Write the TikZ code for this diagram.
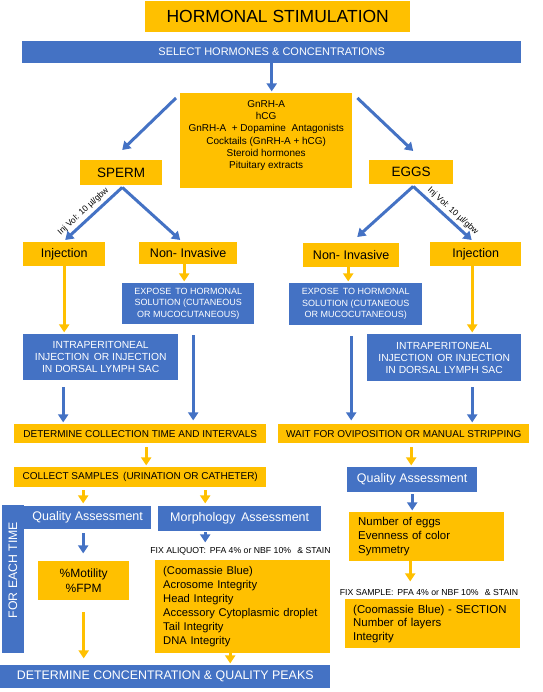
\documentclass[tikz,border=0pt]{standalone}
\usepackage{fontspec}
\setmainfont{Liberation Sans}
\usetikzlibrary{arrows.meta,calc}
\definecolor{bblue}{HTML}{4472C4}
\definecolor{yell}{HTML}{FFC000}
\begin{document}
\begin{tikzpicture}[x=1pt,y=-1pt,
  yb/.style={fill=yell, inner sep=0pt, anchor=north west, text=black, align=center},
  bb/.style={fill=bblue, inner sep=0pt, anchor=north west, text=white, align=center},
  barrow/.style={draw=bblue, line width=3pt, -{Triangle[width=10pt,length=8pt]}},
  yarrow/.style={draw=yell, line width=3pt, -{Triangle[width=10pt,length=8pt]}},
  lbl/.style={font=\fontsize{8.5}{10}\selectfont, inner sep=0pt}
]
\useasboundingbox (0,0) rectangle (542,692);

% boxes
\node[yb, minimum width=265pt, minimum height=31pt, font=\fontsize{17.5}{20}\selectfont] (title) at (145,1) {HORMONAL STIMULATION};
\node[bb, minimum width=499pt, minimum height=22pt, font=\fontsize{11}{13}\selectfont] (select) at (22,41) {SELECT HORMONES \& CONCENTRATIONS};
\node[yb, minimum width=172pt, minimum height=95pt, font=\fontsize{10}{12.3}\selectfont] (hormones) at (180,93)
  {GnRH-A\\hCG\\GnRH-A \;+ Dopamine \;Antagonists\\Cocktails (GnRH-A + hCG)\\Steroid hormones\\Pituitary extracts\\\hphantom{x}};
\node[yb, minimum width=82pt, minimum height=25pt, font=\fontsize{13.5}{16}\selectfont] (sperm) at (80,160) {SPERM};
\node[yb, minimum width=84pt, minimum height=24pt, font=\fontsize{13.5}{16}\selectfont] (eggs) at (369,160) {EGGS};
\node[yb, minimum width=82pt, minimum height=24pt, font=\fontsize{12.5}{15}\selectfont] (injL) at (23,242) {Injection};
\node[yb, minimum width=98pt, minimum height=22pt, font=\fontsize{12.5}{15}\selectfont] (noninvL) at (139,242) {Non- Invasive};
\node[yb, minimum width=96pt, minimum height=24pt, font=\fontsize{12.5}{15}\selectfont] (noninvR) at (303,243) {Non- Invasive};
\node[yb, minimum width=91pt, minimum height=24pt, font=\fontsize{12.5}{15}\selectfont] (injR) at (430,242) {Injection};
\node[bb, minimum width=132pt, minimum height=41pt, font=\fontsize{9}{11.5}\selectfont] (exposeL) at (122,283)
  {EXPOSE \,TO HORMONAL\\SOLUTION (CUTANEOUS\\OR MUCOCUTANEOUS)};
\node[bb, minimum width=133pt, minimum height=42pt, font=\fontsize{9}{11.5}\selectfont] (exposeR) at (289,283)
  {EXPOSE \,TO HORMONAL\\SOLUTION (CUTANEOUS\\OR MUCOCUTANEOUS)};
\node[bb, minimum width=155pt, minimum height=46pt, font=\fontsize{10.3}{12}\selectfont] (intraL) at (23,334)
  {INTRAPERITONEAL\\INJECTION \,OR INJECTION\\IN DORSAL LYMPH SAC};
\node[bb, minimum width=154pt, minimum height=47pt, font=\fontsize{10.3}{12}\selectfont] (intraR) at (367,334)
  {INTRAPERITONEAL\\INJECTION \,OR INJECTION\\IN DORSAL LYMPH SAC};
\node[yb, minimum width=252pt, minimum height=19pt, font=\fontsize{10}{12}\selectfont] (detColl) at (14,424) {DETERMINE COLLECTION TIME AND INTERVALS};
\node[yb, minimum width=251pt, minimum height=19pt, font=\fontsize{10}{12}\selectfont] (wait) at (278,424) {WAIT FOR OVIPOSITION OR MANUAL STRIPPING};
\node[yb, minimum width=252pt, minimum height=20pt, font=\fontsize{10}{12}\selectfont] (collect) at (14,467) {COLLECT SAMPLES \,(URINATION OR CATHETER)};
\node[bb, minimum width=130pt, minimum height=25pt, font=\fontsize{12.5}{15}\selectfont] (qaEggs) at (347,467) {Quality Assessment};
\node[bb, minimum width=148pt, minimum height=22pt, rotate=90, anchor=center, font=\fontsize{12.3}{15}\selectfont] (forEach) at (13,579) {\hspace*{18pt}FOR EACH TIME};
\node[bb, minimum width=127pt, minimum height=23pt, font=\fontsize{12.5}{15}\selectfont] (qaSperm) at (24,506) {Quality Assessment};
\node[bb, minimum width=163pt, minimum height=25pt, font=\fontsize{12.5}{15}\selectfont] (morph) at (158,506) {Morphology \,Assessment};
\node[yb, minimum width=91pt, minimum height=39pt, font=\fontsize{12}{15}\selectfont] (motility) at (38,561) {\%Motility\\\%FPM};
\node[yb, minimum width=175pt, minimum height=93pt, inner xsep=8pt, text width=159pt, align=left, font=\fontsize{11.2}{14}\selectfont] (spermBig) at (155,560)
  {(Coomassie Blue)\\Acrosome Integrity\\Head Integrity\\Accessory Cytoplasmic droplet\\Tail Integrity\\DNA Integrity};
\node[bb, minimum width=330pt, minimum height=23pt, font=\fontsize{12.4}{15}\selectfont] (detConc) at (0,665) {DETERMINE CONCENTRATION \& QUALITY PEAKS};
\node[yb, minimum width=155pt, minimum height=49pt, inner xsep=9pt, text width=137pt, align=left, font=\fontsize{11.4}{14}\selectfont] (numEggs) at (349,512)
  {Number of eggs\\Evenness of color\\Symmetry};
\node[yb, minimum width=175pt, minimum height=49pt, inner xsep=8pt, text width=159pt, align=left, font=\fontsize{11.4}{13.5}\selectfont] (section) at (345,599)
  {(Coomassie Blue) - SECTION\\Number of layers\\Integrity};
\node[font=\fontsize{8.7}{10}\selectfont, inner sep=0pt] (fixAliquot) at (240.5,551) {FIX ALIQUOT: \,PFA 4\% or NBF 10\% \;\,\& STAIN};
\node[font=\fontsize{8.7}{10}\selectfont, inner sep=0pt] (fixSample) at (429,592) {FIX SAMPLE: \,PFA 4\% or NBF 10\% \;\,\& STAIN};

% connectors
\draw[barrow] (select.south) -- ($(select.south)+(0,28)$);
\draw[barrow] ($(hormones.north west)+(-4,5)$) -- ($(sperm.north)+(1,-10)$);
\draw[barrow] ($(hormones.north east)+(5,5)$) -- ($(eggs.north)+(2,-9)$);
\draw[barrow] ($(sperm.south)+(1,2)$) -- ($(injL.north)+(1,-2)$)
  node[lbl, pos=0.58, sloped, above=3pt] {Inj Vol: 10 µl/gbw};
\draw[barrow] ($(sperm.south)+(1,2)$) -- ($(noninvL.north)+(-8,-2)$);
\draw[barrow] ($(eggs.south)+(2,2)$) -- ($(noninvR.north)+(6,-6)$);
\draw[barrow] ($(eggs.south)+(2,2)$) -- ($(injR.north)+(-4,-2)$)
  node[lbl, pos=0.58, sloped, above=3pt] {Inj Vol: 10 µl/gbw};
\draw[yarrow] (injL.south) -- ($(injL.south)+(0,66)$);
\draw[yarrow] ($(noninvL.south)+(-4,0)$) -- ($(noninvL.south)+(-4,17)$);
\draw[yarrow] ($(noninvR.south)+(-3,0)$) -- ($(noninvR.south)+(-3,14)$);
\draw[yarrow] ($(injR.south)+(-3.5,0)$) -- ($(injR.south)+(-3.5,66)$);
\draw[barrow] ($(exposeL.south)+(5,11)$) -- ($(exposeL.south)+(5,96)$);
\draw[barrow] ($(intraL.south)+(-37.5,7)$) -- ($(intraL.south)+(-37.5,42)$);
\draw[barrow] ($(exposeR.south)+(-4.5,11)$) -- ($(exposeR.south)+(-4.5,95)$);
\draw[barrow] ($(intraR.south)+(28,6)$) -- ($(intraR.south)+(28,41)$);
\draw[yarrow] ($(detColl.south)+(6,4)$) -- ($(detColl.south)+(6,22)$);
\draw[yarrow] ($(wait.south)+(7.5,4)$) -- ($(wait.south)+(7.5,22)$);
\draw[yarrow] ($(collect.south)+(-57,3)$) -- ($(collect.south)+(-57,16)$);
\draw[yarrow] ($(collect.south)+(65,3)$) -- ($(collect.south)+(65,16)$);
\draw[barrow] ($(qaEggs.south)+(0,2)$) -- ($(qaEggs.south)+(0,18)$);
\draw[barrow] ($(qaSperm.south)+(-4.5,4)$) -- ($(qaSperm.south)+(-4.5,24)$);
\draw[barrow] ($(morph.south)+(-34.5,1)$) -- ($(morph.south)+(-34.5,11)$);
\draw[yarrow] ($(motility.south)+(0,12)$) -- ($(motility.south)+(0,58)$);
\draw[yarrow] ($(spermBig.south)+(-12.5,0)$) -- ($(spermBig.south)+(-12.5,10)$);
\draw[yarrow] ($(numEggs.south)+(-16.5,0)$) -- ($(numEggs.south)+(-16.5,20)$);
\end{tikzpicture}
\end{document}
